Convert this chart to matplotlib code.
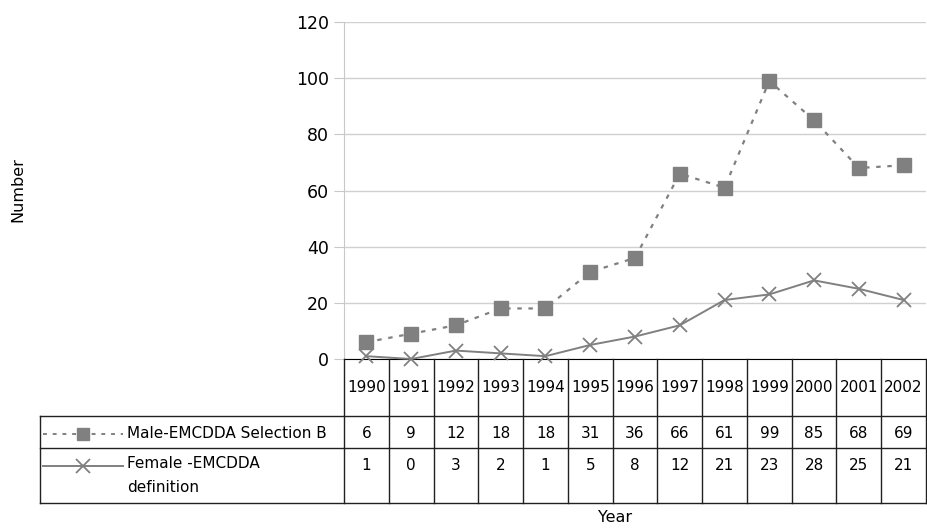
import matplotlib
matplotlib.use("Agg")
import matplotlib.pyplot as plt

years = ["1990", "1991", "1992", "1993", "1994", "1995", "1996", "1997",
         "1998", "1999", "2000", "2001", "2002"]
male = [6, 9, 12, 18, 18, 31, 36, 66, 61, 99, 85, 68, 69]
female = [1, 0, 3, 2, 1, 5, 8, 12, 21, 23, 28, 25, 21]
male_label = "Male-EMCDDA Selection B"
female_label = "Female -EMCDDA\ndefinition"
yticks = [0, 20, 40, 60, 80, 100, 120]

W, H = 927, 530
fig = plt.figure(figsize=(W / 100, H / 100), dpi=100)
plt.rcParams['font.family'] = ['DejaVu Sans']

grey = "#808080"
left, right, top, bottom = 344, 926, 22, 359
ax = fig.add_axes([left / W, (H - bottom) / H, (right - left) / W, (bottom - top) / H])
x = list(range(len(years)))
ax.plot(x, male, color=grey, lw=1.6, ls=(0, (2, 3)), marker="s", ms=10,
        mfc=grey, mec=grey, zorder=3, clip_on=False)
ax.plot(x, female, color=grey, lw=1.4, ls="-", marker="x", ms=10, mew=1.3,
        zorder=3, clip_on=False)
ax.set_xlim(-0.5, len(years) - 0.5)
ax.set_ylim(0, 120)
ax.set_yticks(yticks)
ax.set_yticklabels([str(v) for v in yticks], fontsize=12.5)
ax.set_xticks([])
ax.grid(axis="y", color="#d0d0d0", lw=1)
ax.set_axisbelow(True)
for s in ["top", "right"]:
    ax.spines[s].set_visible(False)
ax.spines["left"].set_color("#c8c8c8")
ax.spines["bottom"].set_color("black")
ax.tick_params(axis="y", length=7, color="#c8c8c8", pad=4)

# data table
tl, tb = 40, 503
colw = (right - left) / len(years)
legw = (left - tl) / colw
ta = fig.add_axes([tl / W, (H - tb) / H, (right - tl) / W, (tb - bottom) / H])
ta.set_xlim(-0.5 - legw, len(years) - 0.5)
ta.set_ylim(tb - bottom, 0)
ta.axis("off")
r0, r1, r2, r3 = 0, 57, 89, tb - bottom
lc = "#202020"
xl = -0.5 - legw
xr = len(years) - 0.5
for yy in [r1, r2, r3]:
    ta.plot([xl, xr], [yy, yy], color=lc, lw=1, clip_on=False)
ta.plot([xl, xl], [r1, r3], color=lc, lw=1, clip_on=False)
for i in range(len(years) + 1):
    ta.plot([i - 0.5, i - 0.5], [r0, r3], color=lc, lw=1, clip_on=False)
fs = 11
ym = (r1 + r2) / 2 + 2
yf = r2 + 18
for i, yr in enumerate(years):
    ta.text(i, (r0 + r1) / 2, yr, ha="center", va="center", fontsize=fs)
    ta.text(i, ym, str(male[i]), ha="center", va="center", fontsize=fs)
    ta.text(i, yf, str(female[i]), ha="center", va="center", fontsize=fs)

px = 1 / colw
ta.plot([xl + 3 * px, xl + 83 * px], [ym] * 2, color=grey, lw=1.4, ls=(0, (2, 3)))
ta.plot([xl + 43 * px], [ym], color=grey, marker="s", ms=9)
ta.plot([xl + 3 * px, xl + 83 * px], [yf] * 2, color=grey, lw=1.4)
ta.plot([xl + 43 * px], [yf], color=grey, marker="x", ms=10, mew=1.3)
ta.text(xl + 87 * px, ym, male_label, ha="left", va="center", fontsize=fs)
ta.text(xl + 87 * px, yf - 10, female_label, ha="left", va="top", fontsize=fs,
        linespacing=1.75)

fig.text(18 / W, 1 - 190 / H, "Number", rotation=90, ha="center", va="center", fontsize=11.5)
fig.text(615 / W, 1 - 518 / H, "Year", ha="center", va="center", fontsize=11.5)

fig.savefig("out.png", dpi=100)
